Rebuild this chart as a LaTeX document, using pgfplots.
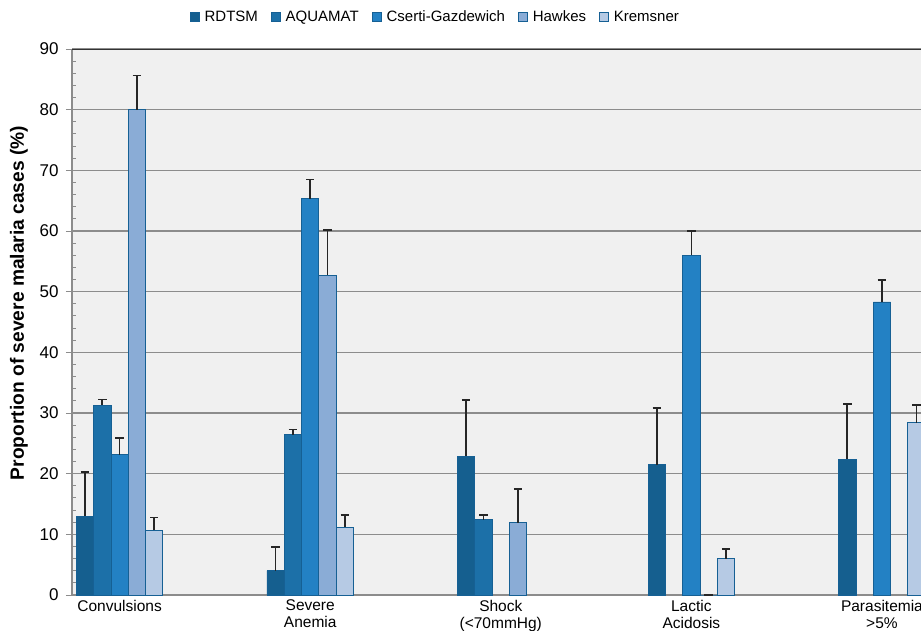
\documentclass[border=0pt]{standalone}
\usepackage{pgfplots}
\pgfplotsset{compat=1.18}
\usepackage{fontspec}
\setmainfont{Liberation Sans}
\definecolor{cA}{RGB}{21,95,143}
\definecolor{cB}{RGB}{28,112,168}
\definecolor{cC}{RGB}{35,129,196}
\definecolor{cD}{RGB}{138,172,214}
\definecolor{cE}{RGB}{182,202,228}
\definecolor{edge}{RGB}{22,96,148}
\definecolor{bg}{RGB}{240,240,240}
\definecolor{gridc}{RGB}{140,140,140}
\pgfplotsset{eb/.style={error bars/.cd, y dir=plus, y explicit,
    error bar style={line width=1.7pt, draw=black!85},
    error mark options={rotate=90, draw=black!85, line width=1.6pt, mark size=4.2pt}}}
\begin{document}
\begin{tikzpicture}
\begin{axis}[
  at={(72pt,35pt)}, anchor=south west,
  scale only axis, width=849pt, height=546pt,
  xmin=-0.25, xmax=4.205, ymin=0, ymax=90,
  axis background/.style={fill=bg},
  axis x line=bottom, axis y line=left,
  axis line style={gridc, line width=1.2pt, -},
  ybar=0pt, bar width=17.3pt,
  xtick={0,1,2,3,4}, xticklabels={Convulsions,Severe\\Anemia,Shock\\(<70mmHg),Lactic\\Acidosis,Parasitemia\\>5\%},
  x tick label style={align=center, font=\fontsize{15.5}{17}\selectfont, yshift=4.5pt},
  major x tick style={draw=none},
  ytick={0,10,...,90}, minor y tick num=4,
  y tick label style={font=\fontsize{17}{20}\selectfont, xshift=-4pt},
  /pgf/number format/assume math mode=true,
  tick align=outside, major tick length=6pt, minor tick length=4pt,
  major y tick style={gridc, line width=1pt},
  minor y tick style={gridc, line width=1pt, xshift=4pt},
  ymajorgrids, major grid style={gridc, line width=1.1pt},
  ylabel={\bfseries Proportion of severe malaria cases (\%)},
  ylabel style={font=\fontsize{19.2}{21}\selectfont, at={(axis description cs:-0.0625,0.535)}, anchor=center, rotate=0},
  legend columns=5,
  legend style={draw=none, fill=none, at={(axis description cs:0.428,1.0586)}, anchor=center,
    font=\fontsize{15}{17}\selectfont, /tikz/every even column/.append style={column sep=11pt},
    /tikz/every odd column/.append style={column sep=3pt}},
  legend image code/.code={\draw[#1, draw=edge, line width=0.8pt] (0pt,-4.5pt) rectangle (9pt,4.5pt);},
  every axis plot/.append style={draw=edge, line width=0.9pt},
]
\addplot[fill=cA, eb] coordinates {(0,13.0) +- (0,7.3) (1,4.0) +- (0,3.9) (2,22.9) +- (0,9.2) (3,21.5) +- (0,9.3) (4,22.4) +- (0,9.1)};
\addplot[fill=cB, eb] coordinates {(0,31.3) +- (0,0.9) (1,26.4) +- (0,0.9) (2,12.4) +- (0,0.8)};
\addplot[fill=cC, eb] coordinates {(0,23.1) +- (0,2.8) (1,65.3) +- (0,3.2) (3,56.0) +- (0,4.0) (4,48.3) +- (0,3.6)};
\addplot[fill=cD, eb] coordinates {(0,80.0) +- (0,5.6) (1,52.7) +- (0,7.5) (2,11.9) +- (0,5.6) (3,0) +- (0,0)};
\addplot[fill=cE, eb] coordinates {(0,10.7) +- (0,2.1) (1,11.2) +- (0,2.0) (3,6.0) +- (0,1.6) (4,28.4) +- (0,2.9)};
\legend{RDTSM,AQUAMAT,Cserti-Gazdewich,Hawkes,Kremsner}
\draw[black!80, line width=1.3pt] (rel axis cs:0,1) -- (rel axis cs:1,1);
\end{axis}
\pgfresetboundingbox
\useasboundingbox (0,0) rectangle (921pt,630pt);
\end{tikzpicture}
\end{document}
